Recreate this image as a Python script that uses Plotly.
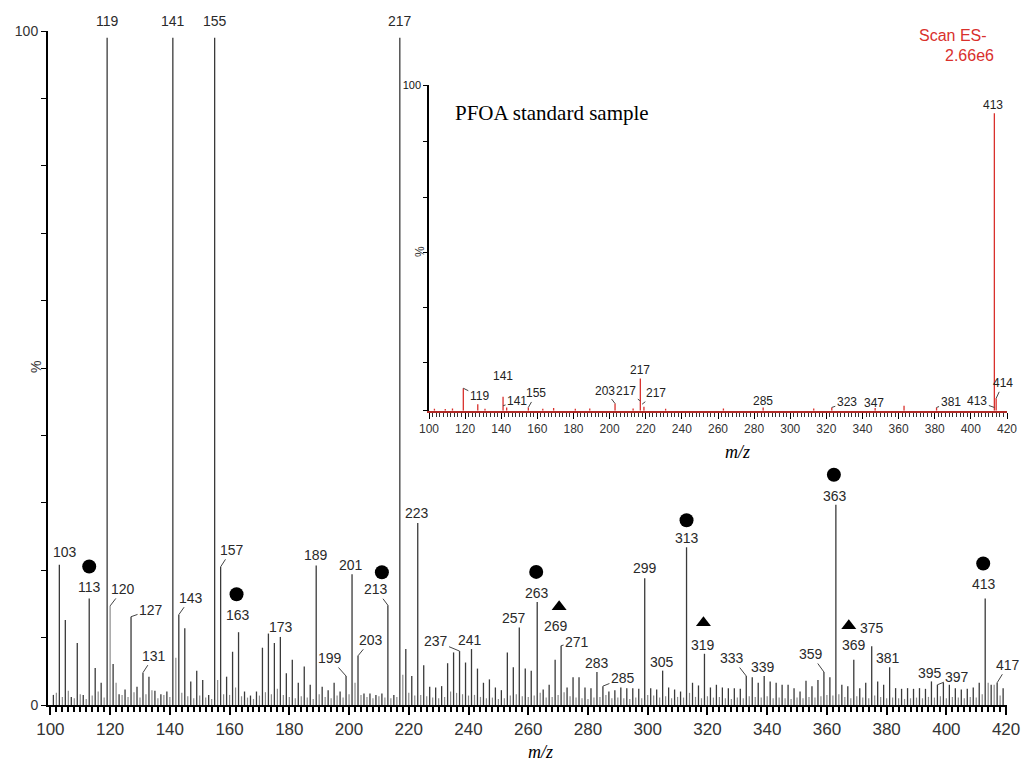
import plotly.graph_objects as go

# ---------------- main spectrum data (m/z, relative intensity %) ----------------
main_odd_mz = list(range(101, 420, 2))
main_odd_int = [
    1.5, 20.8, 12.6, 1.2, 9.2, 1.5, 15.8, 5.5, 3.3, 99.0,      # 101-119
    6.1, 1.6, 2.3, 13.1, 2.7, 4.8, 4.2, 2.1, 1.6, 2.0,          # 121-139
    99.0, 13.4, 11.4, 3.5, 5.1, 3.7, 1.5, 99.0, 20.5, 4.2,      # 141-159
    7.9, 10.8, 2.0, 1.4, 2.0, 8.5, 10.6, 9.2, 10.1, 4.7,        # 161-179
    6.7, 3.3, 5.7, 3.0, 20.7, 2.7, 2.2, 3.3, 2.0, 4.3,          # 181-199
    19.4, 7.3, 1.7, 1.7, 1.5, 1.7, 14.8, 1.5, 99.0, 8.3,        # 201-219
    4.3, 27.0, 5.9, 2.7, 2.6, 2.8, 6.2, 7.8, 8.0, 6.3,          # 221-239
    8.3, 5.4, 3.3, 3.8, 2.6, 2.2, 7.8, 5.6, 11.5, 5.4,          # 241-259
    5.1, 15.3, 2.3, 3.0, 6.7, 8.8, 2.6, 4.1, 4.1, 2.6,          # 261-279
    2.5, 4.9, 2.8, 2.0, 2.2, 2.6, 2.5, 2.5, 2.4, 18.8,          # 281-299
    2.5, 2.3, 5.1, 2.6, 2.3, 2.0, 23.4, 3.3, 2.9, 7.6,          # 301-319
    2.6, 3.0, 2.6, 2.5, 2.5, 2.4, 4.3, 4.1, 3.3, 4.3,           # 321-339
    3.5, 3.3, 3.0, 3.0, 2.5, 2.0, 3.6, 2.8, 3.7, 4.9,           # 341-359
    4.1, 29.7, 3.0, 2.8, 6.7, 2.5, 3.3, 8.7, 3.5, 3.0,          # 361-379
    5.6, 2.5, 2.4, 2.5, 2.4, 2.5, 2.4, 3.5, 3.0, 3.3,           # 381-399
    3.0, 2.5, 2.3, 2.4, 2.6, 3.3, 15.8, 3.0, 3.3, 2.5,          # 401-419
]
main_even_mz = list(range(102, 420, 2))
main_even_int = [
    1.8, 1.2, 2.1, 1.0, 1.6, 0.9, 1.4, 2.0, 1.1, 14.7,          # 102-120
    3.3, 1.5, 1.2, 1.9, 1.1, 1.6, 2.2, 1.0, 1.5, 1.2,           # 122-140
    7.0, 1.8, 1.3, 1.0, 1.4, 1.1, 0.9, 3.7, 1.6, 1.5,           # 142-160
    2.6, 1.3, 1.1, 0.9, 1.4, 1.9, 1.6, 2.4, 1.5, 1.2,           # 162-180
    1.0, 1.3, 1.1, 0.9, 1.6, 1.2, 1.0, 1.4, 1.1, 1.6,           # 182-200
    3.3, 1.5, 1.2, 1.0, 1.3, 1.1, 1.0, 1.2, 4.5, 1.8,           # 202-220
    1.4, 1.5, 1.3, 1.1, 1.0, 1.2, 2.0, 1.8, 1.6, 1.4,           # 222-240
    1.5, 1.2, 1.0, 1.1, 0.9, 1.0, 1.4, 1.6, 1.3, 1.2,           # 242-260
    1.4, 1.8, 1.1, 1.2, 1.5, 1.9, 1.3, 1.1, 1.0, 0.9,           # 262-280
    1.1, 1.2, 1.5, 1.0, 1.1, 1.0, 0.9, 1.1, 1.0, 1.5,           # 282-300
    1.4, 1.1, 1.3, 1.0, 1.2, 1.1, 1.8, 1.2, 1.0, 1.3,           # 302-320
    1.1, 1.2, 1.0, 0.9, 1.1, 1.0, 1.3, 1.2, 1.1, 1.3,           # 322-340
    1.0, 1.1, 1.0, 0.9, 1.1, 1.0, 1.2, 1.1, 1.3, 1.5,           # 342-360
    1.4, 1.6, 1.2, 1.0, 1.3, 1.1, 1.0, 1.4, 1.2, 1.0,           # 362-380
    1.1, 1.0, 0.9, 1.0, 1.1, 1.0, 1.2, 1.1, 1.3, 1.0,           # 382-400
    1.2, 1.1, 1.0, 1.2, 1.1, 1.6, 3.3, 3.0, 1.4,                # 402-418
]

# labelled peaks of the main spectrum
main_labels = [103, 113, 119, 120, 127, 131, 141, 143, 155, 157, 163, 173, 189,
               199, 201, 203, 213, 217, 223, 237, 241, 257, 263, 269, 271, 283,
               285, 299, 305, 313, 319, 333, 339, 359, 363, 369, 375, 381, 395,
               397, 413, 417]
circle_peaks = [113, 163, 213, 263, 313, 363, 413]
triangle_peaks = [269, 319, 369]

# ---------------- inset (PFOA standard) data ----------------
inset_mz = [103, 109, 113, 119, 127, 131, 141, 143, 155, 163, 169, 181, 189,
            203, 213, 217, 219, 231, 263, 285, 313, 323, 347, 363, 381, 413, 414]
inset_int = [0.6, 0.5, 0.7, 6.9, 2.0, 0.6, 4.3, 1.0, 1.0, 0.6, 0.8, 0.6, 0.7,
             2.2, 0.7, 9.9, 1.2, 0.6, 0.7, 1.0, 0.7, 1.0, 0.8, 1.5, 1.0, 91.3, 3.8]

ticks_x = list(range(100, 421, 20))

# ---------------- style / geometry ----------------
W, H = 1022, 762
L, R, T, B = 48, 15, 31, 57
X0, X1 = 99.2, 420.3
PW, PH = W - L - R, H - T - B
PXU = PW / (X1 - X0)          # px per m/z unit (main)
PYU = PH / 100.0              # px per % (main)
DARK = "#3a3a3a"
GREY = "#8c8c8c"
RED = "#d9302c"
SANS = "Liberation Sans, Arial, sans-serif"
NARROW = "Liberation Sans Narrow, Liberation Sans, Arial, sans-serif"
SERIF = "Liberation Serif, Times New Roman, serif"

# inset domain (pixel edges of the inset axes)
IX_L, IX_R = 429, 1007
IY_T, IY_B = 85, 410.7
ix_dom = [(IX_L - L) / PW, (IX_R - L) / PW]
iy_dom = [(H - B - IY_B) / PH, (H - B - IY_T) / PH]


def px(xp):
    return (xp - L) / PW


def py(yp):
    return (H - B - yp) / PH


def sticks(mz, inten):
    xs, ys = [], []
    for m, v in zip(mz, inten):
        xs += [m, m, None]
        ys += [0, v, None]
    return xs, ys


fig = go.Figure()

xs, ys = sticks(main_even_mz, main_even_int)
fig.add_trace(go.Scatter(x=xs, y=ys, mode="lines", line=dict(color=GREY, width=1.2),
                         hoverinfo="skip", showlegend=False))
xs, ys = sticks(main_odd_mz, main_odd_int)
fig.add_trace(go.Scatter(x=xs, y=ys, mode="lines", line=dict(color=DARK, width=1.3),
                         hoverinfo="skip", showlegend=False))

xs, ys = sticks(inset_mz, inset_int)
fig.add_trace(go.Scatter(x=xs, y=ys, mode="lines", line=dict(color=RED, width=1.3),
                         xaxis="x2", yaxis="y2", hoverinfo="skip", showlegend=False))

intensity = dict(zip(main_odd_mz, main_odd_int))
intensity.update(dict(zip(main_even_mz, main_even_int)))
inset_intensity = dict(zip(inset_mz, inset_int))

# label offsets in pixels (dx, dy, leader)
label_pos = {
    103: (6, -13, False), 113: (0, -12, False), 119: (0, -17, False),
    120: (13, -17, True), 127: (20, -7, True), 131: (11, -17, True),
    141: (0, -17, False), 143: (12, -17, True), 155: (0, -17, False),
    157: (11, -17, True), 163: (-1, -17, False), 173: (13, -7, False),
    189: (0, -10, False), 199: (-16, -18, True), 201: (-1, -9, False),
    203: (13, -16, True), 213: (-12, -16, True), 217: (0, -17, False),
    223: (-1, -10, False), 237: (-24, -10, True), 241: (-2, -9, False),
    257: (-5, -9, False), 263: (0, -9, False), 269: (1, -34, False),
    271: (16, -4, True), 283: (0, -9, False), 285: (20, -8, True),
    299: (0, -10, False), 305: (-1, -9, False), 313: (0, -9, False),
    319: (-1, -9, False), 333: (-14, -18, True), 339: (-1, -9, False),
    359: (-13, -18, True), 363: (-1, -9, False), 369: (0, -15, False),
    375: (0, -18, False), 381: (-2, -9, False), 395: (-1, -8, False),
    397: (20, -8, True), 413: (-1, -15, False), 417: (11, -18, True),
}
marker_pos = {
    113: (0, -32), 163: (-2, -38), 213: (-6, -33), 263: (-1, -30),
    313: (0, -27), 363: (-2, -30), 413: (-2, -35),
    269: (4, -53), 319: (-1, -31), 369: (-5, -34),
}

ann = []
for m in main_labels:
    dx, dy, lead = label_pos[m]
    v = min(intensity[m], 99.0)
    a = dict(x=m, y=v, xref="x", yref="y", text=str(m), xanchor="center", yanchor="middle",
             font=dict(family=SANS, size=14, color="#2a2a2a"))
    if lead:
        a.update(showarrow=True, ax=dx, ay=dy, arrowhead=0, arrowwidth=1,
                 arrowcolor="#444", standoff=0, startstandoff=0)
    else:
        a.update(showarrow=False, xshift=dx, yshift=-dy)
    ann.append(a)

for sym, peaks in (("circle", circle_peaks), ("triangle-up", triangle_peaks)):
    mx, my = [], []
    for m in peaks:
        dx, dy = marker_pos[m]
        mx.append(m + dx / PXU)
        my.append(intensity[m] - dy / PYU)
    fig.add_trace(go.Scatter(x=mx, y=my, mode="markers",
                             marker=dict(symbol=sym, size=14 if sym == "circle" else 13,
                                         color="black", line=dict(width=0)),
                             hoverinfo="skip", showlegend=False))

# inset labels: (m/z, anchor intensity override, dx, dy, leader, text)
inset_label_pos = [
    (119, None, 16, 8, True, "119"), (141, None, 0, -21, False, "141"),
    (141, 1.5, 14, -5, True, "141"), (155, None, 8, -14, True, "155"),
    (203, None, -10, -13, True, "203"), (217, 3.0, -14, -10, True, "217"),
    (217, None, 0, -8, False, "217"), (218, 2.0, 14, -11, True, "217"),
    (285, None, 0, -6, False, "285"), (323, None, 15, -5, True, "323"),
    (347, None, -1, -5, False, "347"), (381, None, 14, -5, True, "381"),
    (413, 1.0, -17, -6, True, "413"), (414, None, 7, -15, True, "414"),
    (413, None, -1, -8, False, "413"),
]
for m, yv, dx, dy, lead, txt in inset_label_pos:
    v = yv if yv is not None else inset_intensity.get(m, 1.0)
    a = dict(x=m, y=v, xref="x2", yref="y2", text=txt, xanchor="center", yanchor="middle",
             font=dict(family=NARROW, size=12, color="#222"))
    if lead:
        a.update(showarrow=True, ax=dx, ay=dy, arrowhead=0, arrowwidth=1,
                 arrowcolor="#444", standoff=0)
    else:
        a.update(showarrow=False, xshift=dx, yshift=-dy)
    ann.append(a)


def ptext(text, xp, yp, font, xanchor="center", angle=0):
    return dict(text=text, x=px(xp), y=py(yp), xref="paper", yref="paper",
                xanchor=xanchor, yanchor="middle", showarrow=False, textangle=angle,
                font=font)


ann += [
    ptext("<i>m/z</i>", 540, 752, dict(family=SERIF, size=18, color="black")),
    ptext("<i>m/z</i>", 737, 452, dict(family=SERIF, size=18, color="black")),
    ptext("%", 36, 367, dict(family=SANS, size=14, color="#333"), angle=-90),
    ptext("%", 420, 252, dict(family=NARROW, size=12, color="#333"), angle=-90),
    ptext("PFOA standard sample", 453, 113, dict(family=SERIF, size=21, color="black"),
          xanchor="left"),
    ptext("Scan ES-", 989, 36, dict(family=SANS, size=16, color=RED), xanchor="right"),
    ptext("2.66e6", 996, 55, dict(family=SANS, size=16, color=RED), xanchor="right"),
]

yt = list(range(0, 101, 10))
iyt = [0, 14.7, 31.6, 48.5, 65.4, 82.6, 100]

fig.update_layout(
    template="none",
    width=W, height=H, autosize=False,
    margin=dict(l=L, r=R, t=T, b=B, pad=0, autoexpand=False),
    paper_bgcolor="white", plot_bgcolor="rgba(0,0,0,0)",
    showlegend=False, annotations=ann,
    xaxis=dict(range=[X0, X1], tickvals=ticks_x, ticktext=[str(t) for t in ticks_x],
               automargin=False,
               showgrid=False, zeroline=False, showline=True, linecolor="black",
               linewidth=2, ticks="outside", ticklen=8, tickwidth=1.5, tickcolor="black",
               minor=dict(dtick=2, tick0=100, ticks="outside", ticklen=5, tickcolor="black",
                          showgrid=False),
               tickfont=dict(family=SANS, size=17, color="#333")),
    yaxis=dict(range=[0, 100], tickvals=yt, automargin=False,
               ticktext=["0"] + [""] * 9 + ["100"],
               showgrid=False, zeroline=False, showline=True, linecolor="black",
               linewidth=2, ticks="outside", ticklen=5, tickcolor="black",
               tickfont=dict(family=SANS, size=14, color="#333")),
    xaxis2=dict(domain=ix_dom, anchor="y2", range=[100, 420], tickvals=ticks_x,
                ticktext=[str(t) for t in ticks_x], automargin=False,
                showgrid=False, zeroline=False,
                showline=True, linecolor="#b02a26", linewidth=2, ticks="outside",
                ticklen=6, tickcolor="black",
                minor=dict(dtick=2, tick0=100, ticks="outside", ticklen=4,
                           tickcolor="#333", showgrid=False),
                tickfont=dict(family=NARROW, size=12, color="#333")),
    yaxis2=dict(domain=iy_dom, anchor="x2", range=[0, 100], tickvals=iyt,
                ticktext=[""] * 6 + ["100"], automargin=False,
                showgrid=False, zeroline=False,
                showline=True, linecolor="black", linewidth=1.5, ticks="outside",
                ticklen=4, tickcolor="black",
                tickfont=dict(family=NARROW, size=11, color="#111")),
)

fig.write_html(
    "out.html",
    config={"displayModeBar": False, "responsive": False},
    post_script="document.body.style.margin='0';document.body.style.overflow='hidden';",
)
